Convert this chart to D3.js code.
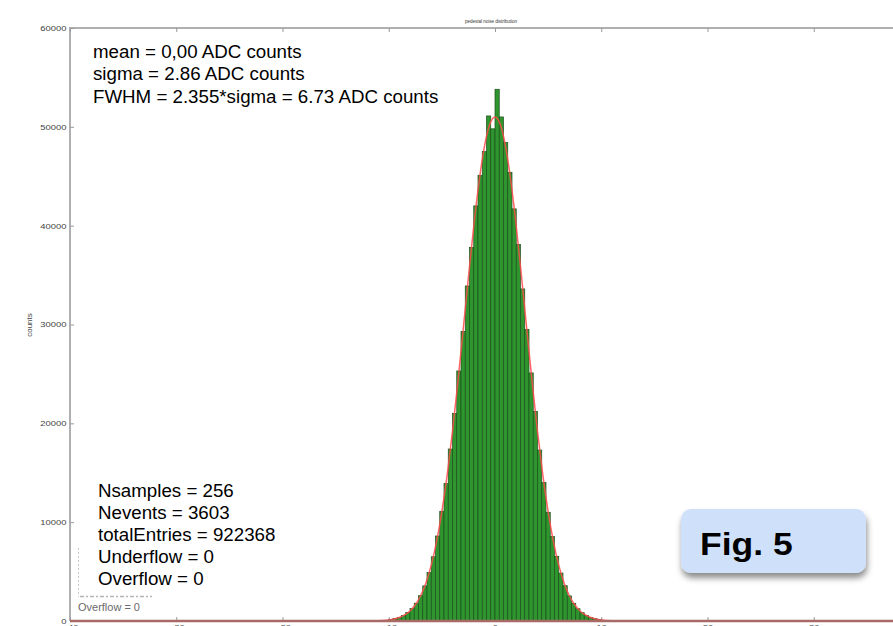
<!DOCTYPE html>
<html>
<head>
<meta charset="utf-8">
<script src="https://cdn.jsdelivr.net/npm/d3@7"></script>
<style>
  html, body { margin: 0; padding: 0; background: #fff; }
  svg { display: block; }
  text { font-family: "Liberation Sans", Arial, Helvetica, sans-serif; }
</style>
</head>
<body>
<svg id="chart" width="893" height="626"></svg>
<script>
// ---------- data ----------
const binWidth = 0.4;
const binCenters = [-9.8,-9.4,-9.0,-8.6,-8.2,-7.8,-7.4,-7.0,-6.6,-6.2,-5.8,-5.4,-5.0,-4.6,-4.2,-3.8,-3.4,-3.0,-2.6,-2.2,-1.8,-1.4,-1.0,-0.6,-0.2,
                    0.2,0.6,1.0,1.4,1.8,2.2,2.6,3.0,3.4,3.8,4.2,4.6,5.0,5.4,5.8,6.2,6.6,7.0,7.4,7.8,8.2,8.6,9.0,9.4,9.8];
const counts = [150,240,370,560,850,1250,1800,2560,3550,4900,6500,8600,11100,13900,17400,21000,25300,29300,33900,37800,42000,45100,47500,51100,49800,
                53800,51000,48400,45400,41700,38100,33600,29500,25100,21200,17300,14000,11000,8550,6550,4850,3570,2540,1790,1240,840,550,360,230,140];
const fitX = [-12,-11,-10,-9.5,-9,-8.5,-8,-7.5,-7,-6.5,-6,-5.5,-5,-4.5,-4,-3.5,-3,-2.5,-2,-1.5,-1,-0.5,0,
              0.5,1,1.5,2,2.5,3,3.5,4,4.5,5,5.5,6,6.5,7,7.5,8,8.5,9,9.5,10,11,12];
const fitY = [8,31,113,205,361,616,1020,1639,2551,3856,5651,8027,11067,14790,19181,24123,29422,34808,39938,44446,47976,50227,51000,
              50227,47976,44446,39938,34808,29422,24123,19181,14790,11067,8027,5651,3856,2551,1639,1020,616,361,205,113,31,8];
const xTicks = [-40,-30,-20,-10,0,10,20,30,40];
const yTicks = [0,10000,20000,30000,40000,50000,60000];
const statsTop = ["mean = 0,00 ADC counts", "sigma = 2.86 ADC counts", "FWHM = 2.355*sigma = 6.73 ADC counts"];
const statsBottom = ["Nsamples = 256", "Nevents = 3603", "totalEntries = 922368", "Underflow = 0", "Overflow = 0"];
const yLabel = "counts";
const figLabel = "Fig. 5";
const smallLabel = "Overflow = 0";
const titleText = "pedestal noise distribution";

// ---------- layout ----------
const svg = d3.select("#chart");
const mLeft = 70, mTop = 28, mBottom = 621, mRight = 920;
const x = d3.scaleLinear().domain([-40, 40]).range([mLeft, mRight]);
const y = d3.scaleLinear().domain([0, 60000]).range([mBottom, mTop]);

const defs = svg.append("defs");
const f = defs.append("filter").attr("id", "shadow").attr("x", "-20%").attr("y", "-20%").attr("width", "150%").attr("height", "160%");
f.append("feDropShadow").attr("dx", 1).attr("dy", 5).attr("stdDeviation", 3).attr("flood-color", "#000").attr("flood-opacity", 0.45);

// frame lines
svg.append("line").attr("x1", mLeft).attr("x2", 893).attr("y1", mTop).attr("y2", mTop)
  .attr("stroke", "#b0b0b0").attr("stroke-width", 2);
svg.append("line").attr("x1", mLeft).attr("x2", mLeft).attr("y1", mTop - 1).attr("y2", mBottom)
  .attr("stroke", "#b0b0b0").attr("stroke-width", 2);

// y axis
const yAxis = d3.axisLeft(y).tickValues(yTicks).tickSize(-4).tickFormat(d3.format("d"));
const gy = svg.append("g").attr("transform", `translate(${mLeft},0)`).call(yAxis);
gy.select(".domain").remove();
gy.selectAll(".tick line").attr("stroke", "#999");
gy.selectAll(".tick text").attr("font-size", 7).attr("fill", "#444")
  .attr("font-family", "Liberation Sans, Arial, sans-serif")
  .attr("x", 0).attr("dy", "0.35em")
  .attr("transform", "translate(-3.5,0) scale(1.35,1)");

// x axis bottom
const xAxis = d3.axisBottom(x).tickValues(xTicks).tickSize(-4).tickFormat(d3.format("d"));
const gx = svg.append("g").attr("transform", `translate(0,${mBottom})`).call(xAxis);
gx.select(".domain").remove();
gx.selectAll(".tick line").attr("stroke", "#999");
gx.selectAll(".tick text").attr("font-size", 7).attr("fill", "#555")
  .attr("font-family", "Liberation Sans, Arial, sans-serif")
  .attr("y", 0).attr("dy", 0)
  .attr("transform", "translate(0,9) scale(1.35,1)");

// x axis top ticks
const xTop = d3.axisTop(x).tickValues(xTicks).tickSize(-4).tickFormat("");
const gt = svg.append("g").attr("transform", `translate(0,${mTop})`).call(xTop);
gt.select(".domain").remove();
gt.selectAll(".tick line").attr("stroke", "#999");

// title (tiny)
svg.append("text").attr("x", x(0) - 4).attr("y", 23).attr("text-anchor", "middle")
  .attr("font-size", 4.5).attr("fill", "#333").text(titleText);

// y label
svg.append("text").attr("transform", `translate(32,325) rotate(-90)`).attr("text-anchor", "middle")
  .attr("font-size", 8).attr("fill", "#444").text(yLabel);

// histogram bars
svg.append("g").selectAll("rect").data(binCenters).join("rect")
  .attr("x", (c) => x(c - binWidth / 2))
  .attr("width", (c) => x(c + binWidth / 2) - x(c - binWidth / 2))
  .attr("y", (c, i) => y(counts[i]))
  .attr("height", (c, i) => y(0) - y(counts[i]))
  .attr("fill", "#2f962f").attr("stroke", "#1c4f1c").attr("stroke-width", 0.7);

// fit curve
const line = d3.line().x((d, i) => x(fitX[i])).y((d) => y(d)).curve(d3.curveMonotoneX);
svg.append("path").datum(fitY).attr("d", line).attr("fill", "none")
  .attr("stroke", "#ff4a4a").attr("stroke-opacity", 0.85).attr("stroke-width", 1.5);

// bottom axis line (fit curve at zero blended with grey axis)
svg.append("line").attr("x1", mLeft).attr("x2", 893).attr("y1", mBottom).attr("y2", mBottom)
  .attr("stroke", "#a86a66").attr("stroke-width", 2.5);

// stats text top
statsTop.forEach((s, i) => {
  svg.append("text").attr("transform", `translate(93,${57.5 + i * 22.5}) scale(1.07,1)`)
    .attr("font-size", 17.5).attr("fill", "#000").text(s);
});

// remnants of old stats box
svg.append("line").attr("x1", 78.5).attr("x2", 78.5).attr("y1", 548).attr("y2", 597)
  .attr("stroke", "#c8c8c8").attr("stroke-width", 1).attr("stroke-dasharray", "2,2");
svg.append("line").attr("x1", 80).attr("x2", 152).attr("y1", 596.5).attr("y2", 596.5)
  .attr("stroke", "#b5b5b5").attr("stroke-width", 1.5).attr("stroke-dasharray", "4,2,2,2");
svg.append("text").attr("transform", `translate(78,611) scale(1.1,1)`)
  .attr("font-size", 10).attr("fill", "#6a6a6a").text(smallLabel);

// stats text bottom
statsBottom.forEach((s, i) => {
  svg.append("text").attr("transform", `translate(98,${497 + i * 22}) scale(1.07,1)`)
    .attr("font-size", 17.5).attr("fill", "#000").text(s);
});

// Fig. 5 box
svg.append("rect").attr("x", 681).attr("y", 509).attr("width", 185).attr("height", 64).attr("rx", 10)
  .attr("fill", "#cfe0fb").attr("filter", "url(#shadow)");
svg.append("text").attr("transform", `translate(700,555) scale(1.11,1)`)
  .attr("font-size", 32).attr("font-weight", "bold").attr("fill", "#000").text(figLabel);
</script>
</body>
</html>
